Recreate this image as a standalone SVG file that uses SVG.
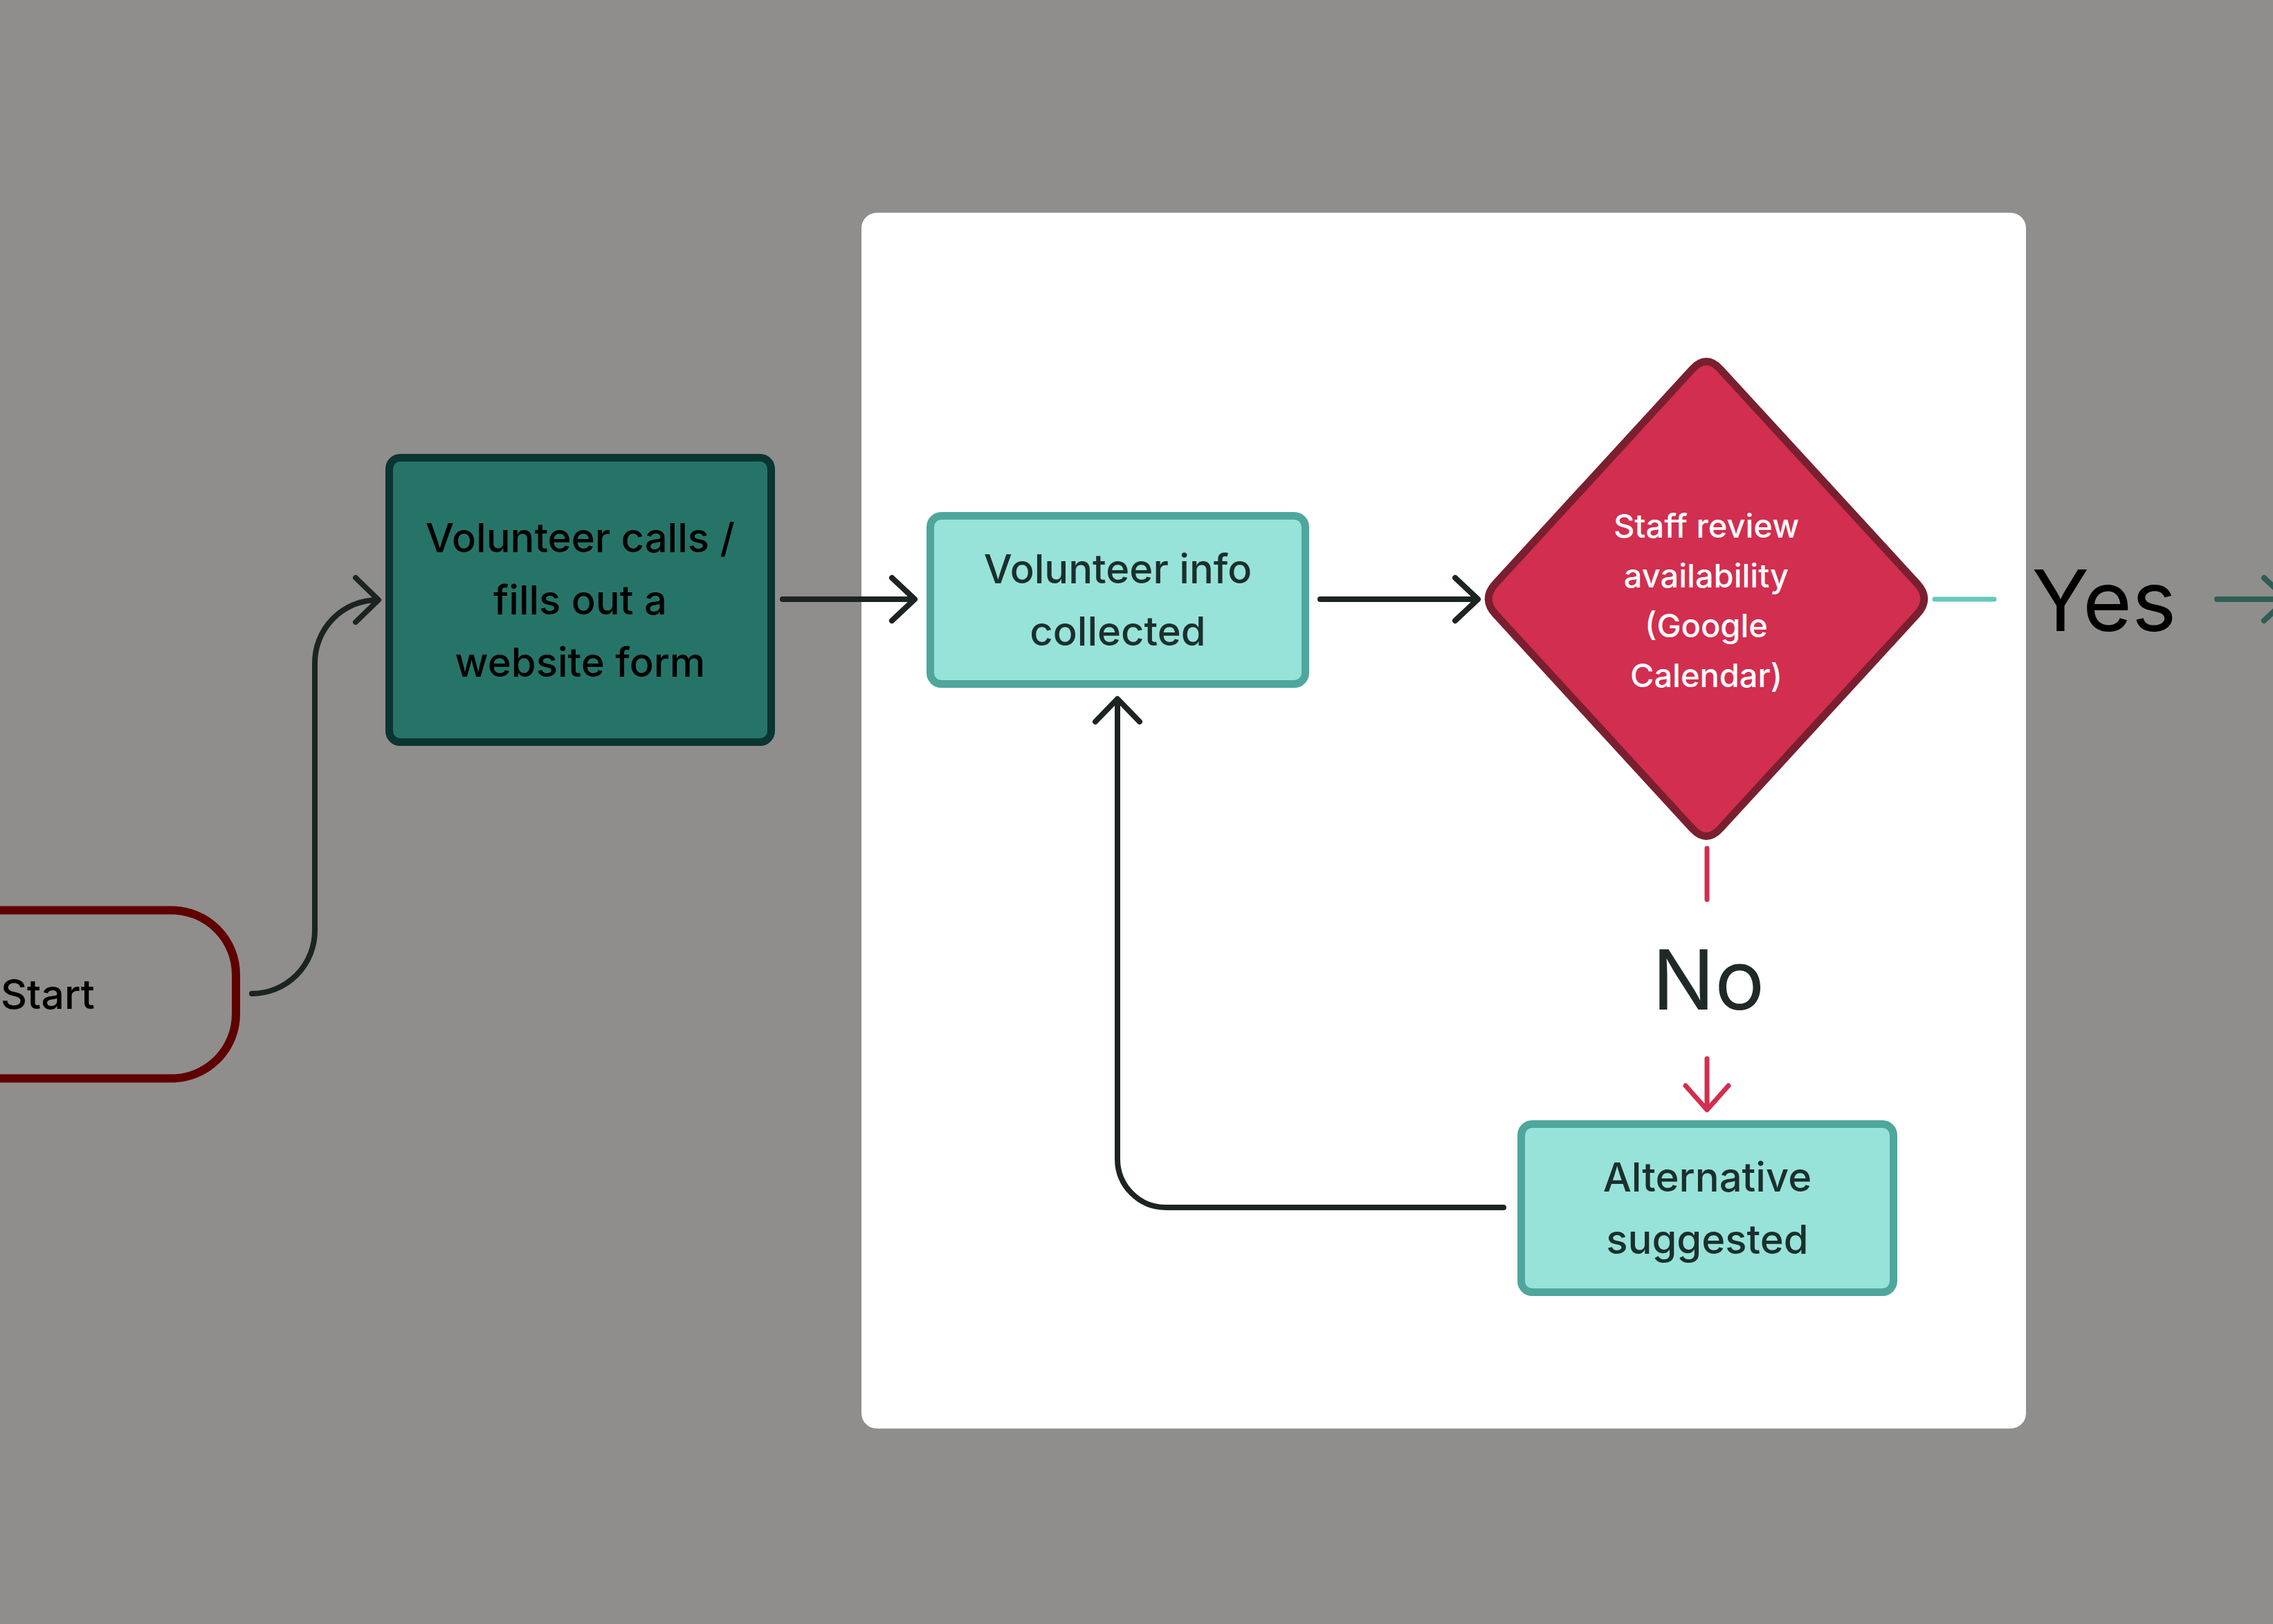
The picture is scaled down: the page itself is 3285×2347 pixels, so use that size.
<svg xmlns="http://www.w3.org/2000/svg" width="3285" height="2347" viewBox="0 0 3285 2347">
<defs>
<style>
.t{font-family:Inter,"Noto Sans","Liberation Sans",sans-serif;text-anchor:middle}
.box{font-size:58px;font-weight:500}
.conn{fill:none;stroke-linecap:round;stroke-linejoin:round}
.dark{stroke:#1c2422;stroke-width:8}
.lt{fill:#97e3d9;stroke:#4fa69c;stroke-width:11}
</style>
</defs>
<rect x="0" y="0" width="3285" height="2347" fill="#8f8e8c"/>
<rect id="panel" x="1245" y="307.5" width="1683" height="1757" rx="22" fill="#ffffff"/>

<g id="connectors" class="conn">
<path class="dark" stroke="#0d0d0d" d="M364 1436 A91 91 0 0 0 455 1345 V958 A91 91 0 0 1 546 867"/>
<path class="dark" stroke="#0d0d0d" d="M514 835 L547 867 L514 899"/>
<path class="dark" stroke="#0d0d0d" d="M1131 866 H1321"/>
<path class="dark" stroke="#0d0d0d" d="M1289 835 L1322 866 L1289 897"/>
<path class="dark" d="M1908 866 H2135"/>
<path class="dark" d="M2103 835 L2136 866 L2103 897"/>
<path stroke="#67c8bc" stroke-width="7" d="M2796 866 H2882"/>
<path stroke="#2e5e56" stroke-width="8" d="M3204 866 H3304 M3272 835 L3305 866 L3272 897"/>
<path stroke="#d22e4f" stroke-width="7" d="M2467 1226 V1300"/>
<path stroke="#d22e4f" stroke-width="7" d="M2467 1530 V1603 M2436 1569 L2467 1604 L2498 1569"/>
<path class="dark" d="M2173 1745 H1685 A70 70 0 0 1 1615 1675 V1011"/>
<path class="dark" d="M1583 1043 L1615 1010 L1647 1043"/>
</g>

<g id="start">
<rect x="-200" y="1315.5" width="541" height="243" rx="93" fill="none" stroke="#600000" stroke-width="12"/>
<text x="1" y="1458" font-family="Inter,'Noto Sans','Liberation Sans',sans-serif" font-size="59" font-weight="500" fill="#000">Start</text>
</g>

<g id="volunteer-calls">
<rect x="562.5" y="661.5" width="552" height="411" rx="16" fill="#267468" stroke="#0a3530" stroke-width="11"/>
<text class="t box" fill="#000"><tspan x="838.5" y="798">Volunteer calls /</tspan><tspan x="838.5" y="888">fills out a</tspan><tspan x="838.5" y="978">website form</tspan></text>
</g>

<g id="volunteer-info">
<rect class="lt" x="1344.5" y="745.5" width="542" height="243" rx="16"/>
<text class="t box" fill="#1b2f2c"><tspan x="1615.5" y="843">Volunteer info</tspan><tspan x="1615.5" y="933">collected</tspan></text>
</g>

<g id="staff-review">
<path d="M2445.7 533.6 Q2466 511.5 2486.3 533.6 L2770.7 843.4 Q2791 865.5 2770.7 887.6 L2486.3 1197.4 Q2466 1219.5 2445.7 1197.4 L2161.3 887.6 Q2141 865.5 2161.3 843.4 Z" fill="#d22e4f" stroke="#7a1f2f" stroke-width="11" stroke-linejoin="round"/>
<text class="t" font-size="47" font-weight="500" fill="#ffffff"><tspan x="2466" y="777">Staff review</tspan><tspan x="2466" y="849">availability</tspan><tspan x="2466" y="921">(Google</tspan><tspan x="2466" y="993">Calendar)</tspan></text>
</g>

<g id="label-yes">
<text class="t" x="3041" y="912" font-size="122" fill="#000">Yes</text>
</g>

<g id="label-no">
<text class="t" x="2469" y="1459" font-size="120" fill="#1f2a28">No</text>
</g>

<g id="alternative">
<rect class="lt" x="2198.5" y="1624.5" width="538" height="243" rx="16"/>
<text class="t box" fill="#1b2f2c"><tspan x="2467.5" y="1722">Alternative</tspan><tspan x="2467.5" y="1812">suggested</tspan></text>
</g>
</svg>
